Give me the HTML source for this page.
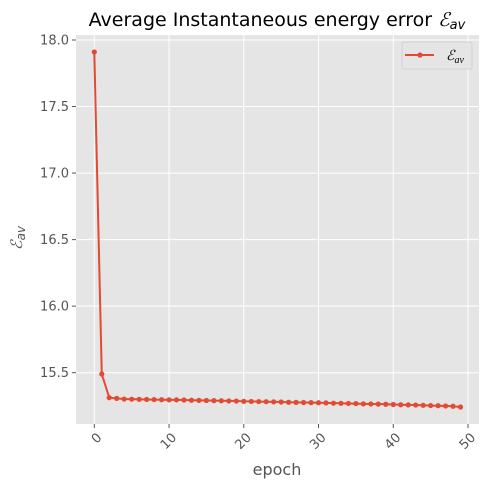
<!DOCTYPE html>
<html><head><meta charset="utf-8"><style>
body{margin:0;background:#fff;font-family:"DejaVu Sans","Liberation Sans",sans-serif}
</style></head><body>
<svg id="c" width="489" height="490" xmlns="http://www.w3.org/2000/svg">
<rect x="0" y="0" width="489" height="490" fill="#fff"/>
<rect x="76" y="35" width="403" height="389" fill="#e5e5e5"/>
<g id="grid"></g><g id="ticks"></g><g id="series"></g>
<text x="277" y="26" text-anchor="middle" font-size="19" fill="#000">Average Instantaneous energy error <tspan font-style="italic" font-family="Liberation Serif">ℰ</tspan><tspan font-style="italic" font-size="13" dy="3">av</tspan></text>
<text x="277" y="475" text-anchor="middle" font-size="16" fill="#555">epoch</text>
<text transform="translate(22,238) rotate(-90)" text-anchor="middle" font-size="16" fill="#555"><tspan font-style="italic" font-family="Liberation Serif">ℰ</tspan><tspan font-style="italic" font-size="12" dy="3">av</tspan></text>
<g>
<rect x="402" y="42" width="70" height="27" rx="2" fill="#e5e5e5" stroke="#ccc" stroke-width="0.8"/>
<line x1="405" y1="55" x2="434" y2="55" stroke="#e24a33" stroke-width="2"/>
<circle cx="420" cy="55" r="2.6" fill="#e24a33"/>
<text x="446" y="60" font-size="14" font-style="italic" font-family="Liberation Serif" fill="#000">ℰ<tspan font-size="10" dy="3">av</tspan></text>
</g>
</svg>
<script>
const epochs=[];for(let i=0;i<50;i++)epochs.push(i);
const values=[17.91,15.49,15.312,15.307,15.302,15.301,15.300,15.299,15.298,15.297,15.296,15.296,15.295,15.293,15.292,15.291,15.290,15.289,15.288,15.287,15.285,15.284,15.283,15.282,15.281,15.280,15.278,15.277,15.276,15.275,15.274,15.273,15.271,15.270,15.269,15.268,15.266,15.265,15.264,15.263,15.261,15.259,15.258,15.257,15.255,15.253,15.252,15.250,15.248,15.242];
const xTicks=[0,10,20,30,40,50];
const yTicks=[15.5,16.0,16.5,17.0,17.5,18.0];
const X=v=>94.3+(v-0)*(468-94.3)/50;
const Y=v=>40+(18-v)*(372.7-40)/2.5;
const ns="http://www.w3.org/2000/svg";
function mk(t,a,p){const e=document.createElementNS(ns,t);for(const k in a)e.setAttribute(k,a[k]);p.appendChild(e);return e;}
const g=document.getElementById('grid'),tk=document.getElementById('ticks'),s=document.getElementById('series');
xTicks.forEach(v=>{
 const l=mk('line',{x1:X(v),x2:X(v),y1:35,y2:424,stroke:'#fff','stroke-width':1},g);
 
 
 mk('line',{x1:X(v),x2:X(v),y1:424,y2:428,stroke:'#555'},tk);
 const t=mk('text',{x:X(v)+4,y:440,'font-size':13,fill:'#555','text-anchor':'end',transform:`rotate(-45 ${X(v)+4} 434)`},tk);
 t.textContent=v;
 
 
});
yTicks.forEach(v=>{
 const l=mk('line',{x1:76,x2:479,y1:Y(v),y2:Y(v),stroke:'#fff','stroke-width':1},g);
 
 
 mk('line',{x1:72,x2:76,y1:Y(v),y2:Y(v),stroke:'#555'},tk);
 const t=mk('text',{x:69,y:Y(v)+4.5,'font-size':13,fill:'#555','text-anchor':'end'},tk);
 t.textContent=v.toFixed(1);
 
 
});
const p=mk('polyline',{points:epochs.map((e,i)=>X(e)+','+Y(values[i])).join(' '),fill:'none',stroke:'#e24a33','stroke-width':2},s);


epochs.forEach((e,i)=>{
 const c=mk('circle',{cx:X(e),cy:Y(values[i]),r:2.6,fill:'#e24a33'},s);
 
 
});
</script>
</body></html>
